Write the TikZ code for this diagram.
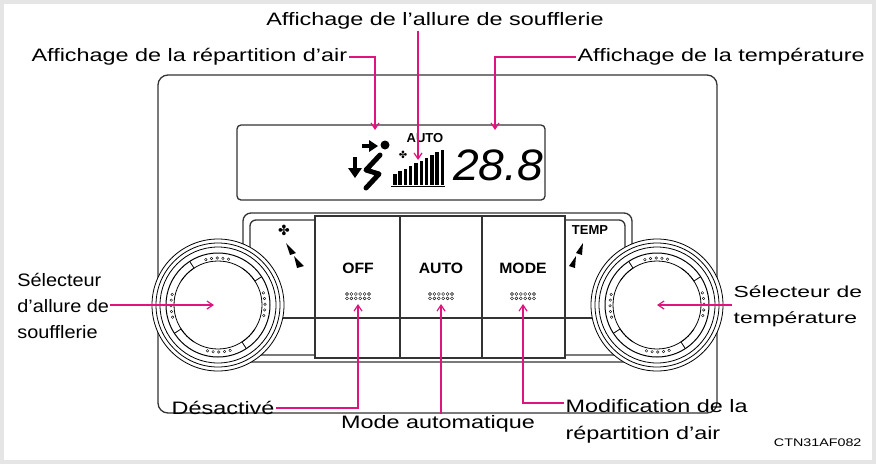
\documentclass[tikz,border=0pt]{standalone}
\usepackage{fontspec}
\setmainfont{Liberation Sans}
\newfontfamily\symfont{DejaVu Sans}
\usetikzlibrary{positioning,calc,arrows.meta}
\definecolor{callpink}{HTML}{E0147F}
\tikzset{
  lbl/.style={inner sep=1pt,font=\fontsize{18}{20}\selectfont,xscale=1.3},
  call/.style={callpink,line width=1.2pt,-{Straight Barb[length=6pt,width=8pt]}},
  panel/.style={line width=1.3pt,black!80},
  btn/.style={font=\bfseries\fontsize{15}{17}\selectfont,xscale=1.05}
}
\begin{document}
\begin{tikzpicture}[x=1pt,y=-1pt]
	% Frame
	\fill[black!10] (0,0) rectangle (876,464);
	\fill[white] (4,4) rectangle (872,460);
	\useasboundingbox (0,0) rectangle (876,464);

	% Panel
	\draw[panel,rounded corners=10pt] (158,75) rectangle (717,413);
	\draw[panel,rounded corners=4pt] (237,125) rectangle (545,200);
	\draw[panel,rounded corners=8pt] (243,213) rectangle (632,362);
	\draw[panel,rounded corners=6pt] (250,220) rectangle (625,355);
	\fill[white] (315,214) rectangle (565,361);
	\draw[panel] (315,216) rectangle (565,358);
	\foreach \x in {400,482} \draw[panel] (\x,216) -- (\x,358);
	\draw[panel] (315,318) -- (565,318);
	\draw[panel] (250,318) -- (315,318);
	\draw[panel] (565,318) -- (625,318);

	% Knobs
	\foreach \cx/\nm in {218/lknob,657/rknob}{
	  \fill[white] (\cx,305) circle (66);
	  \foreach \r in {66,62,58} \draw[line width=0.8pt] (\cx,305) circle (\r);
	  \draw[line width=1pt] (\cx,305) circle (52);
	  \draw[line width=0.8pt] (\cx,305) circle (44);
	  \foreach \a in {45,135,225,315}
	    \draw[line width=0.8pt] ({\cx+44*cos(\a-12)},{305+44*sin(\a-12)}) arc[start angle=\a-12,end angle=\a+12,radius=44]
	      -- ({\cx+52*cos(\a+12)},{305+52*sin(\a+12)});
	  \foreach \a in {-15,-8,...,15} {
	    \foreach \b in {0,90,180,270}
	      \draw[line width=0.4pt] ({\cx+47*cos(\a+\b)},{305+47*sin(\a+\b)}) circle (1.3);
	  }
	  \coordinate (\nm) at (\cx,305);
	}
	\node[font=\symfont\fontsize{14}{14}\selectfont] at (284,230) {✤};
	\fill (286,243) -- (296,253) -- (290,255) -- cycle;
	\fill (294,256) -- (304,266) -- (297,268) -- cycle;
	\node[font=\bfseries\fontsize{13}{14}\selectfont] at (590,230) {TEMP};
	\fill (583,243) -- (576,253) -- (582,255) -- cycle;
	\fill (576,256) -- (569,266) -- (575,268) -- cycle;

	% Buttons
	\node[btn] (off) at (358,268) {OFF};
	\node[btn] (auto) at (441,268) {AUTO};
	\node[btn] (mode) at (523,268) {MODE};
	\foreach \bx/\nm in {358/doff,441/dauto,523/dmode}{
	  \foreach \i in {0,...,5} \foreach \j in {0,1}
	    \draw[line width=0.4pt] ({\bx-11+4.4*\i},{294+4.4*\j}) circle (1.5);
	  \coordinate (\nm) at (\bx,304);
	}

	% Display content
	\node[font=\bfseries\fontsize{13}{14}\selectfont] (dauto0) at (425,138) {AUTO};
	\foreach \i in {0,...,9}
	  \fill ({393+5.3*\i},{174-2.7*\i}) rectangle ({396.5+5.3*\i},185);
	\draw[line width=0.8pt] (391,186) -- (445,186);
	\node[font=\symfont\fontsize{10}{10}\selectfont] at (403,155) {✤};
	\node[font=\itshape\fontsize{44}{44}\selectfont,xscale=1.05] (temp) at (498,165) {28.8};
	% air flow icon
	\draw[line width=4pt] (355,157) -- (355,170);
	\fill (348,168) -- (362,168) -- (355,178) -- cycle;
	\draw[line width=3.5pt] (362,146) -- (370,146);
	\fill (369,140) -- (378,146) -- (369,152) -- cycle;
	\fill (385,145) circle (4.5);
	\draw[line width=5pt,line join=round,line cap=round] (380,155) -- (366,170) -- (379,174) -- (366,188);
	\coordinate (dair) at (375,130);
	\coordinate (dfan) at (418,160);
	\coordinate (dtemp) at (495,130);

	% Labels
	\node[lbl,anchor=west] (lair) at (30,57) {Affichage de la répartition d'air};
	\node[lbl] (lfan) at (435,21) {Affichage de l'allure de soufflerie};
	\node[lbl,anchor=west] (ltemp) at (576,57) {Affichage de la température};
	\node[lbl,align=left,anchor=west,font=\fontsize{18}{26}\selectfont,xscale=0.85] (lsel) at (16,306) {Sélecteur\\d'allure de\\soufflerie};
	\node[lbl,align=left,anchor=west,font=\fontsize{16}{26}\selectfont,xscale=1.1] (rsel) at (732,306) {Sélecteur de\\température};
	\node[lbl,anchor=east] (ldes) at (276,408) {Désactivé};
	\node[lbl] (lmode) at (438,424) {Mode automatique};
	\node[lbl,anchor=west,align=left,font=\fontsize{18}{27}\selectfont] (lrep) at (564,421) {Modification de la\\répartition d'air};
	\node[font=\fontsize{11}{12}\selectfont,xscale=1.3,anchor=east] (code) at (866,443) {CTN31AF082};

	% Callouts
	\draw[call] (lair.east) -| (dair);
	\draw[call] (lfan.south -| dfan) -- (dfan);
	\draw[call] (ltemp.west) -| (dtemp);
	\draw[call] (lsel.east |- lknob) -- ($(lknob)+(-4,0)$);
	\draw[call] (rsel.west |- rknob) -- (rknob);
	\draw[call] (ldes.east) -| (doff);
	\draw[call] (lmode.north -| dauto) -- (dauto);
	\draw[call] ($(lrep.north west)+(0,5)$) -| (dmode);
\end{tikzpicture}
\end{document}
